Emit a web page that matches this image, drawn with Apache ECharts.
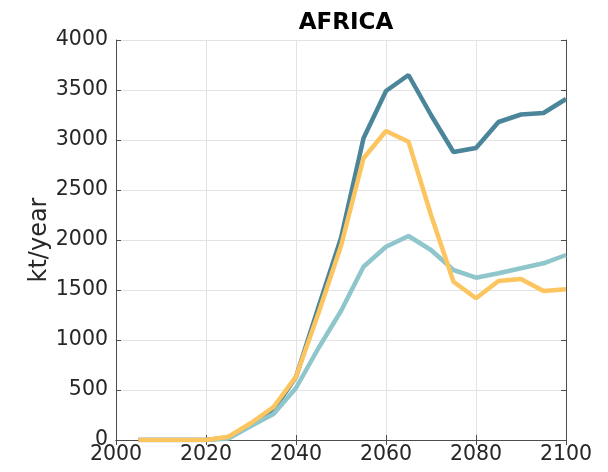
<!DOCTYPE html>
<html><head><meta charset="utf-8">
<script src="https://cdn.jsdelivr.net/npm/echarts@6/dist/echarts.min.js"></script>
<style>html,body{margin:0;padding:0;background:#fff}#c{width:608px;height:472px}</style>
</head><body><div id="c"></div>
<script>
const years = [2005,2010,2015,2020,2025,2030,2035,2040,2045,2050,2055,2060,2065,2070,2075,2080,2085,2090,2095,2100];
const darkBlue  = [0,0,0,0,25,160,300,630,1330,2020,3017,3490,3650,3250,2880,2920,3180,3255,3270,3410];
const lightBlue = [0,0,0,0,15,140,260,520,920,1290,1733,1933,2040,1900,1700,1623,1667,1717,1767,1850];
const yellow    = [0,0,0,0,33,170,330,633,1270,1940,2817,3090,2983,2250,1583,1417,1590,1610,1490,1507];
const xTicks = [2000,2020,2040,2060,2080,2100];
const yTicks = [0,500,1000,1500,2000,2500,3000,3500,4000];

const font = '"DejaVu Sans", sans-serif';
const chart = echarts.init(document.getElementById('c'), null, {renderer:'canvas'});
const pair = arr => years.map((y,i)=>[y,arr[i]]);
const axisLine = {show:true, lineStyle:{color:'#4d4d4d', width:1}};
const tick = {show:true, inside:true, length:5, lineStyle:{color:'#4d4d4d'}};
const gridLine = {show:true, lineStyle:{color:'#e3e3e3', width:1}};
chart.setOption({
  animation:false,
  title:{text:'AFRICA', left:341, textAlign:'center', top:7,
    textStyle:{fontFamily:font, fontWeight:'bold', fontSize:23, color:'#000'}},
  grid:{left:116, right:42, top:40, bottom:32},
  xAxis:[{type:'value', min:xTicks[0], max:xTicks[xTicks.length-1], interval:xTicks[1]-xTicks[0],
    axisLine:axisLine, axisTick:tick, splitLine:gridLine,
    axisLabel:{fontFamily:font, fontSize:20.5, color:'#262626', margin:4, formatter:v=>String(v)}},
   {type:'value', position:'top', min:xTicks[0], max:xTicks[xTicks.length-1], interval:xTicks[1]-xTicks[0],
    axisLine:axisLine, axisTick:tick, splitLine:{show:false}, axisLabel:{show:false}}],
  yAxis:[{type:'value', min:yTicks[0], max:yTicks[yTicks.length-1], interval:yTicks[1]-yTicks[0],
    name:'kt/year', nameLocation:'middle', nameGap:64, nameMoveOverlap:false,
    nameTextStyle:{fontFamily:font, fontSize:24, color:'#262626'},
    axisLine:axisLine, axisTick:tick, splitLine:gridLine,
    axisLabel:{fontFamily:font, fontSize:20.5, color:'#262626', margin:8, formatter:v=>String(v)}},
   {type:'value', position:'right', min:yTicks[0], max:yTicks[yTicks.length-1], interval:yTicks[1]-yTicks[0],
    axisLine:axisLine, axisTick:tick, splitLine:{show:false}, axisLabel:{show:false}}],
  series:[
    {type:'line', data:pair(darkBlue), symbol:'none', lineStyle:{color:'#4b8599', width:4.5}, z:2},
    {type:'line', data:pair(lightBlue), symbol:'none', lineStyle:{color:'#8fc6cc', width:4.5}, z:3},
    {type:'line', data:pair(yellow), symbol:'none', lineStyle:{color:'#fdc560', width:4.5}, z:4}
  ]
});
</script></body></html>
